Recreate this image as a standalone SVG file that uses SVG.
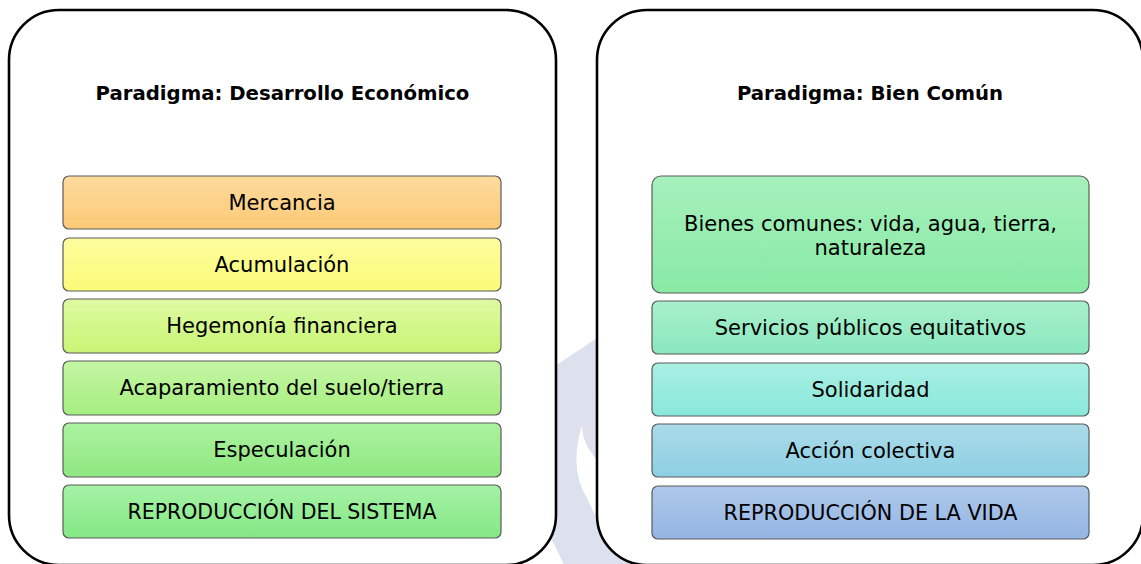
<svg xmlns="http://www.w3.org/2000/svg" width="1141" height="564" viewBox="0 0 1141 564">
<style>
.panel{fill:#ffffff;stroke:#000000;stroke-width:2.6}
.box{stroke:#5a5a5a;stroke-width:1.2}
.t{font-family:"DejaVu Sans","Verdana",sans-serif;font-size:21px;fill:#000;text-anchor:middle}
.h{font-family:"DejaVu Sans","Verdana",sans-serif;font-size:19.7px;font-weight:bold;fill:#000;text-anchor:middle}
.wm{fill:#dde1ee}
</style>
<defs>
<linearGradient id="g1" x1="0" y1="0" x2="0" y2="1"><stop offset="0" stop-color="#fedb9e"/><stop offset="1" stop-color="#fcc976"/></linearGradient>
<linearGradient id="g2" x1="0" y1="0" x2="0" y2="1"><stop offset="0" stop-color="#fdfd9e"/><stop offset="1" stop-color="#fbfb78"/></linearGradient>
<linearGradient id="g3" x1="0" y1="0" x2="0" y2="1"><stop offset="0" stop-color="#defaa2"/><stop offset="1" stop-color="#c8f574"/></linearGradient>
<linearGradient id="g4" x1="0" y1="0" x2="0" y2="1"><stop offset="0" stop-color="#c4f6a4"/><stop offset="1" stop-color="#a6ee80"/></linearGradient>
<linearGradient id="g5" x1="0" y1="0" x2="0" y2="1"><stop offset="0" stop-color="#acf2a0"/><stop offset="1" stop-color="#8ee880"/></linearGradient>
<linearGradient id="g6" x1="0" y1="0" x2="0" y2="1"><stop offset="0" stop-color="#a6f2a6"/><stop offset="1" stop-color="#84e884"/></linearGradient>
<linearGradient id="r1" x1="0" y1="0" x2="0" y2="1"><stop offset="0" stop-color="#a6f0bc"/><stop offset="1" stop-color="#88eaa4"/></linearGradient>
<linearGradient id="r2" x1="0" y1="0" x2="0" y2="1"><stop offset="0" stop-color="#a8f0cc"/><stop offset="1" stop-color="#8ae8be"/></linearGradient>
<linearGradient id="r3" x1="0" y1="0" x2="0" y2="1"><stop offset="0" stop-color="#aaefe4"/><stop offset="1" stop-color="#88e8da"/></linearGradient>
<linearGradient id="r4" x1="0" y1="0" x2="0" y2="1"><stop offset="0" stop-color="#acdae8"/><stop offset="1" stop-color="#8cd0e4"/></linearGradient>
<linearGradient id="r5" x1="0" y1="0" x2="0" y2="1"><stop offset="0" stop-color="#aec8ea"/><stop offset="1" stop-color="#94b6e4"/></linearGradient>
</defs>
<rect width="1141" height="564" fill="#ffffff"/>
<g id="watermark">
<path class="wm" d="M612,328 L540,376 L540,520 Q556,545 566,570 L650,570 Q604,540 588,500 Q556,450 612,366 Z"/>
<path class="wm" d="M612,378 Q552,426 612,474 Z"/>
</g>
<g id="panel-left">
<rect class="panel" x="9" y="10" width="547" height="555" rx="50"/>
<text class="h" x="282.5" y="100">Paradigma: Desarrollo Económico</text>
</g>
<g id="panel-right">
<rect class="panel" x="597" y="10" width="546" height="555" rx="50"/>
<text class="h" x="870" y="100">Paradigma: Bien Común</text>
</g>
<g id="node-mercancia"><rect class="box" x="63" y="176" width="438" height="53" rx="6" fill="url(#g1)"/><text class="t" x="282" y="210">Mercancia</text></g>
<g id="node-acumulacion"><rect class="box" x="63" y="238" width="438" height="53" rx="6" fill="url(#g2)"/><text class="t" x="282" y="272">Acumulación</text></g>
<g id="node-hegemonia"><rect class="box" x="63" y="299" width="438" height="54" rx="6" fill="url(#g3)"/><text class="t" x="282" y="333">Hegemonía financiera</text></g>
<g id="node-acaparamiento"><rect class="box" x="63" y="361" width="438" height="54" rx="6" fill="url(#g4)"/><text class="t" x="282" y="395">Acaparamiento del suelo/tierra</text></g>
<g id="node-especulacion"><rect class="box" x="63" y="423" width="438" height="54" rx="6" fill="url(#g5)"/><text class="t" x="282" y="457">Especulación</text></g>
<g id="node-reproduccion-sistema"><rect class="box" x="63" y="485" width="438" height="53" rx="6" fill="url(#g6)"/><text class="t" x="282" y="519" textLength="309" lengthAdjust="spacingAndGlyphs">REPRODUCCIÓN DEL SISTEMA</text></g>
<g id="node-bienes"><rect class="box" x="652" y="176" width="437" height="117" rx="9" fill="url(#r1)"/><text class="t" x="870.5" y="231">Bienes comunes: vida, agua, tierra,</text><text class="t" x="870.5" y="255">naturaleza</text></g>
<g id="node-servicios"><rect class="box" x="652" y="301" width="437" height="53" rx="6" fill="url(#r2)"/><text class="t" x="870.5" y="335">Servicios públicos equitativos</text></g>
<g id="node-solidaridad"><rect class="box" x="652" y="363" width="437" height="53" rx="6" fill="url(#r3)"/><text class="t" x="870.5" y="397">Solidaridad</text></g>
<g id="node-accion"><rect class="box" x="652" y="424" width="437" height="53" rx="6" fill="url(#r4)"/><text class="t" x="870.5" y="458">Acción colectiva</text></g>
<g id="node-reproduccion-vida"><rect class="box" x="652" y="486" width="437" height="53" rx="6" fill="url(#r5)"/><text class="t" x="870.5" y="520" textLength="294" lengthAdjust="spacingAndGlyphs">REPRODUCCIÓN DE LA VIDA</text></g>
<g id="connectors"></g>
</svg>
